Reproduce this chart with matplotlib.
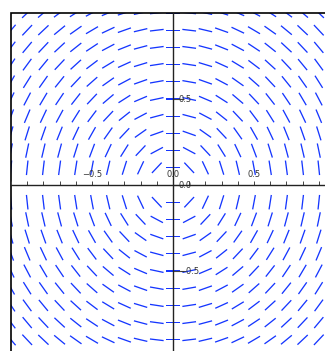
import matplotlib
matplotlib.use("Agg")
import matplotlib.pyplot as plt
import numpy as np
from matplotlib.patches import Rectangle
from matplotlib.ticker import MultipleLocator

# grid of sample points for the slope field dy/dx = -x/y
x_vals = np.round(np.arange(-1.0, 1.01, 0.1), 2)
y_vals = np.round(np.arange(-1.0, 1.01, 0.1), 2)
x_ticks = [-0.5, 0.0, 0.5]
y_ticks = [-0.5, 0.0, 0.5]

X, Y = np.meshgrid(x_vals, y_vals)
R = np.hypot(X, Y)
with np.errstate(invalid='ignore', divide='ignore'):
    U = np.where(Y == 0, np.nan, Y / R)
    V = np.where(Y == 0, np.nan, -X / R)

seg_len = 0.085

fig = plt.figure(figsize=(3.25, 3.51), dpi=100)
ax = fig.add_axes([11 / 325, (351 - 357) / 351, 324 / 325, 344 / 351])

ax.quiver(X, Y, U * seg_len, V * seg_len, pivot='mid', angles='xy',
          scale_units='xy', scale=1, units='dots', width=1.3,
          headwidth=0, headlength=0, headaxislength=0, color='#1536ff')

ax.set_xlim(-1, 1)
ax.set_ylim(-1, 1)

# axes through the origin, labels above / to the right
ax.spines['top'].set_position('zero')
ax.spines['right'].set_position('zero')
ax.spines['left'].set_visible(False)
ax.spines['bottom'].set_visible(False)
for s in ('top', 'right'):
    ax.spines[s].set_color('#222222')
    ax.spines[s].set_linewidth(1)
ax.xaxis.tick_top()
ax.yaxis.tick_right()
ax.set_xticks(x_ticks)
ax.set_yticks(y_ticks)
ax.xaxis.set_minor_locator(MultipleLocator(0.1))
ax.tick_params(axis='x', which='both', direction='out', length=3,
               width=0.7, color='#444444', labelsize=6, labelcolor='#333333', pad=1)
ax.tick_params(axis='y', which='major', direction='out', length=8,
               width=0.8, color='#444444', labelsize=6, labelcolor='#333333', pad=-3.7)

# frame around the plot
ax.add_patch(Rectangle((0, 0), 1, 1, transform=ax.transAxes, fill=False,
                       edgecolor='black', linewidth=1.2, clip_on=False))

fig.savefig('out.png', dpi=100)
